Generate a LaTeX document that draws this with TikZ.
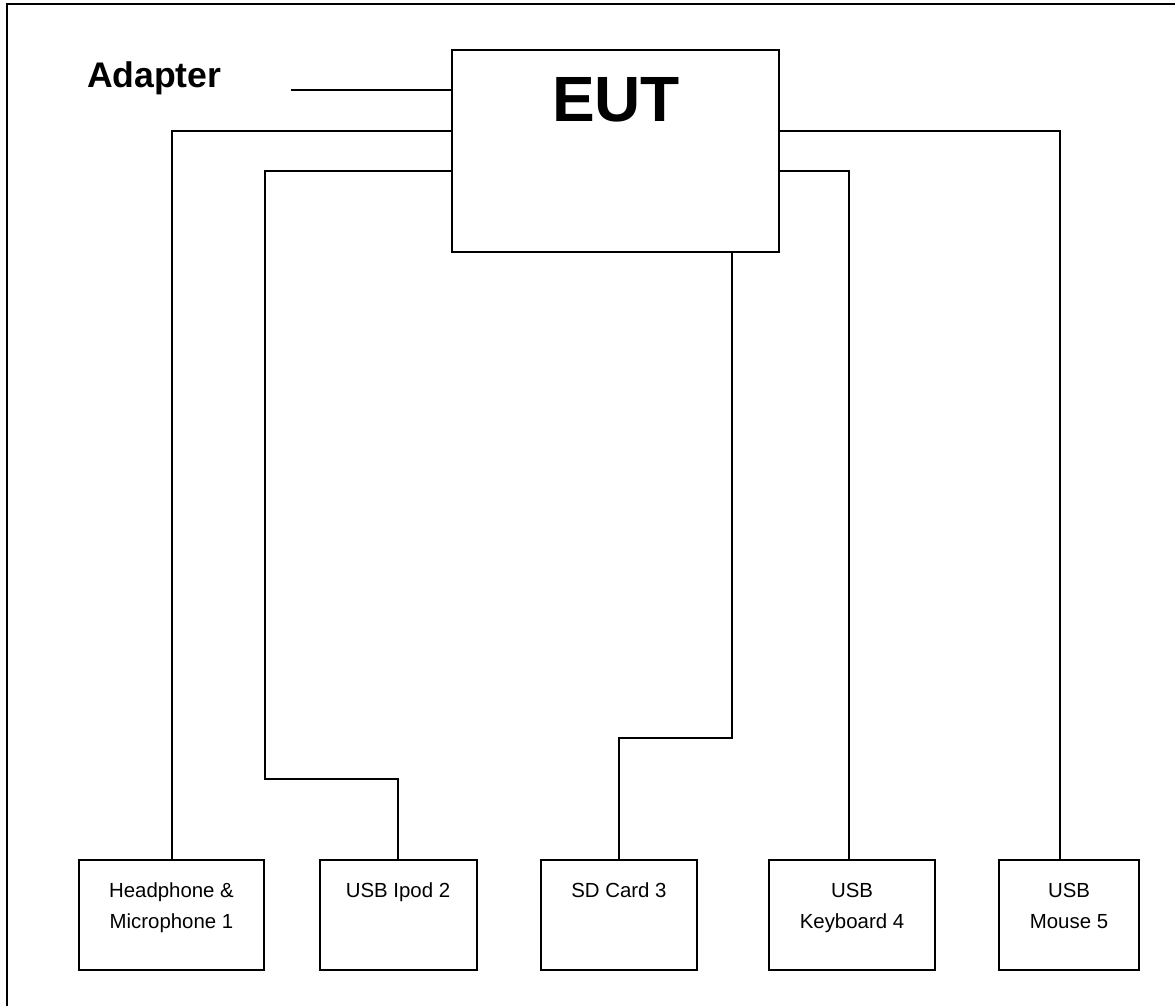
\documentclass[tikz,border=0pt]{standalone}
\usepackage{fontspec}
\setmainfont{Liberation Sans}
\usetikzlibrary{calc}

\begin{document}
\begin{tikzpicture}[x=0.5pt, y=-0.5pt, line width=1pt,
    devbox/.style={draw, minimum height=55pt, inner sep=0pt},
    devtext/.style={anchor=north, align=center, inner sep=0pt, font=\fontsize{10.2}{15.5}\selectfont}]
      \useasboundingbox (0,0) rectangle (1175,1006);
      \clip (0,0) rectangle (1175,1006);
      \draw (7,4) rectangle (1200,1030);

      \draw (86,88) node[anchor=base west, inner sep=0pt, font=\fontsize{17.8}{20}\selectfont\bfseries] (Adp) {Adapter};
      \draw (615.5,151) node[draw, minimum width=163.5pt, minimum height=101pt] (EUT) {};
      \draw (616,122) node[anchor=base, inner sep=0pt, font=\fontsize{32}{36}\selectfont\bfseries] (EUTlbl) {EUT};

      \draw (171.5,915) node[devbox, minimum width=92.5pt] (HP) {};
      \draw (398,915) node[devbox, minimum width=78.5pt] (Ipod) {};
      \draw (619,915) node[devbox, minimum width=78pt] (SD) {};
      \draw (852,915) node[devbox, minimum width=83pt] (KB) {};
      \draw (1069,915) node[devbox, minimum width=70pt] (Mouse) {};

      \draw ([yshift=-11.5pt]HP.north) node[devtext] (HPtxt) {Headphone \&\\Microphone 1};
      \draw ([yshift=-11.5pt]Ipod.north) node[devtext] (Ipodtxt) {USB Ipod 2};
      \draw ([yshift=-11.5pt]SD.north) node[devtext] (SDtxt) {SD Card 3};
      \draw ([yshift=-11.5pt]KB.north) node[devtext] (KBtxt) {USB\\Keyboard 4};
      \draw ([yshift=-11.5pt]Mouse.north) node[devtext] (Mousetxt) {USB\\Mouse 5};

      \draw ([xshift=34pt,yshift=-1pt]Adp.base east) -- ([yshift=-1pt]Adp.base east -| EUT.west);
      \draw (EUT.west |- 0,131) -| (HP.north);
      \draw (EUT.west |- 0,171) -| (265,779) -| (Ipod.north);
      \draw (EUT.south -| 732,0) |- (SD.north |- 0,738) -- (SD.north);
      \draw (EUT.east |- 0,171) -| ([xshift=-1.5pt]KB.north);
      \draw (EUT.east |- 0,131) -| ([xshift=-4.5pt]Mouse.north);
    \end{tikzpicture}
\end{document}
